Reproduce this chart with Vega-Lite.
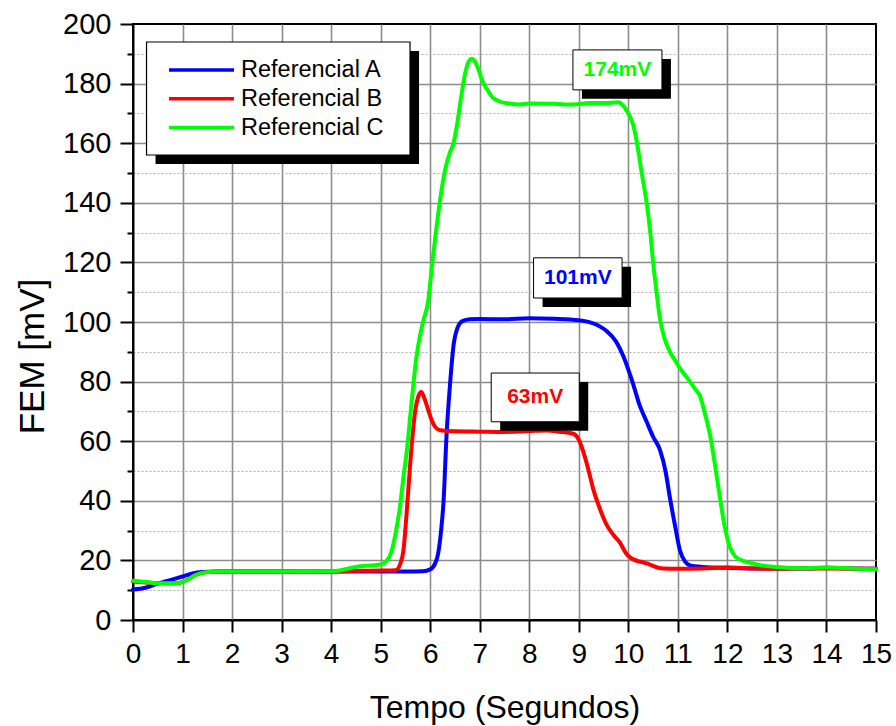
{
  "$schema": "https://vega.github.io/schema/vega-lite/v6.json",
  "width": 743,
  "height": 596,
  "autosize": {"type": "none"},
  "padding": {"left": 133, "top": 24, "right": 20, "bottom": 106},
  "background": "white",
  "config": {
    "view": {"stroke": "black", "strokeWidth": 2},
    "font": "Liberation Sans",
    "axis": {"labelFont": "Liberation Sans", "titleFont": "Liberation Sans", "labelColor": "black", "titleColor": "black", "titleFontWeight": "normal"}
  },
  "resolve": {"axis": {"x": "independent", "y": "independent"}},
  "datasets": {
    "curves": [
      {"series": "Referencial A", "t": 0, "v": 10.2}, {"series": "Referencial A", "t": 0.25, "v": 10.8}, {"series": "Referencial A", "t": 0.5, "v": 12.2}, {"series": "Referencial A", "t": 0.75, "v": 13.4}, {"series": "Referencial A", "t": 1.0, "v": 14.6}, {"series": "Referencial A", "t": 1.2, "v": 15.6}, {"series": "Referencial A", "t": 1.4, "v": 16.1}, {"series": "Referencial A", "t": 1.7, "v": 16.3}, {"series": "Referencial A", "t": 2, "v": 16.3}, {"series": "Referencial A", "t": 3, "v": 16.3}, {"series": "Referencial A", "t": 4, "v": 16.3}, {"series": "Referencial A", "t": 5, "v": 16.3}, {"series": "Referencial A", "t": 5.5, "v": 16.3}, {"series": "Referencial A", "t": 5.85, "v": 16.4}, {"series": "Referencial A", "t": 6.0, "v": 17.0}, {"series": "Referencial A", "t": 6.1, "v": 19}, {"series": "Referencial A", "t": 6.16, "v": 22.3}, {"series": "Referencial A", "t": 6.22, "v": 30}, {"series": "Referencial A", "t": 6.27, "v": 40}, {"series": "Referencial A", "t": 6.33, "v": 62}, {"series": "Referencial A", "t": 6.4, "v": 79}, {"series": "Referencial A", "t": 6.47, "v": 92}, {"series": "Referencial A", "t": 6.55, "v": 98}, {"series": "Referencial A", "t": 6.65, "v": 100.3}, {"series": "Referencial A", "t": 6.8, "v": 100.9}, {"series": "Referencial A", "t": 7.0, "v": 101}, {"series": "Referencial A", "t": 7.5, "v": 100.9}, {"series": "Referencial A", "t": 8.0, "v": 101.3}, {"series": "Referencial A", "t": 8.5, "v": 101.1}, {"series": "Referencial A", "t": 9.0, "v": 100.6}, {"series": "Referencial A", "t": 9.3, "v": 99.5}, {"series": "Referencial A", "t": 9.56, "v": 97}, {"series": "Referencial A", "t": 9.75, "v": 93.5}, {"series": "Referencial A", "t": 9.9, "v": 88.5}, {"series": "Referencial A", "t": 10.0, "v": 84}, {"series": "Referencial A", "t": 10.1, "v": 79}, {"series": "Referencial A", "t": 10.23, "v": 72}, {"series": "Referencial A", "t": 10.37, "v": 66.5}, {"series": "Referencial A", "t": 10.5, "v": 61.5}, {"series": "Referencial A", "t": 10.64, "v": 57}, {"series": "Referencial A", "t": 10.75, "v": 50}, {"series": "Referencial A", "t": 10.84, "v": 41}, {"series": "Referencial A", "t": 10.95, "v": 31}, {"series": "Referencial A", "t": 11.04, "v": 23.5}, {"series": "Referencial A", "t": 11.15, "v": 19.5}, {"series": "Referencial A", "t": 11.25, "v": 18.3}, {"series": "Referencial A", "t": 11.5, "v": 17.8}, {"series": "Referencial A", "t": 12, "v": 17.5}, {"series": "Referencial A", "t": 12.5, "v": 17.3}, {"series": "Referencial A", "t": 13, "v": 17.3}, {"series": "Referencial A", "t": 13.5, "v": 17.3}, {"series": "Referencial A", "t": 14, "v": 17.5}, {"series": "Referencial A", "t": 14.5, "v": 17.3}, {"series": "Referencial A", "t": 15, "v": 17.2},
      {"series": "Referencial B", "t": 0, "v": 12.9}, {"series": "Referencial B", "t": 0.25, "v": 12.6}, {"series": "Referencial B", "t": 0.5, "v": 12.3}, {"series": "Referencial B", "t": 0.75, "v": 12.3}, {"series": "Referencial B", "t": 0.95, "v": 12.5}, {"series": "Referencial B", "t": 1.1, "v": 13.5}, {"series": "Referencial B", "t": 1.25, "v": 15}, {"series": "Referencial B", "t": 1.4, "v": 15.8}, {"series": "Referencial B", "t": 1.6, "v": 16.2}, {"series": "Referencial B", "t": 2, "v": 16.3}, {"series": "Referencial B", "t": 3, "v": 16.3}, {"series": "Referencial B", "t": 4, "v": 16.3}, {"series": "Referencial B", "t": 4.5, "v": 16.5}, {"series": "Referencial B", "t": 5, "v": 16.6}, {"series": "Referencial B", "t": 5.3, "v": 16.7}, {"series": "Referencial B", "t": 5.4, "v": 19}, {"series": "Referencial B", "t": 5.46, "v": 23.4}, {"series": "Referencial B", "t": 5.52, "v": 35}, {"series": "Referencial B", "t": 5.59, "v": 51}, {"series": "Referencial B", "t": 5.65, "v": 63}, {"series": "Referencial B", "t": 5.7, "v": 70.5}, {"series": "Referencial B", "t": 5.76, "v": 75}, {"series": "Referencial B", "t": 5.82, "v": 76.5}, {"series": "Referencial B", "t": 5.88, "v": 74.5}, {"series": "Referencial B", "t": 5.96, "v": 70.5}, {"series": "Referencial B", "t": 6.03, "v": 67}, {"series": "Referencial B", "t": 6.1, "v": 64.8}, {"series": "Referencial B", "t": 6.2, "v": 63.7}, {"series": "Referencial B", "t": 6.5, "v": 63.3}, {"series": "Referencial B", "t": 7, "v": 63.2}, {"series": "Referencial B", "t": 7.5, "v": 63.1}, {"series": "Referencial B", "t": 8, "v": 63.4}, {"series": "Referencial B", "t": 8.35, "v": 63.6}, {"series": "Referencial B", "t": 8.6, "v": 63.2}, {"series": "Referencial B", "t": 8.89, "v": 62.5}, {"series": "Referencial B", "t": 9.0, "v": 60.5}, {"series": "Referencial B", "t": 9.1, "v": 56}, {"series": "Referencial B", "t": 9.2, "v": 50}, {"series": "Referencial B", "t": 9.29, "v": 44}, {"series": "Referencial B", "t": 9.4, "v": 38.5}, {"series": "Referencial B", "t": 9.56, "v": 32}, {"series": "Referencial B", "t": 9.7, "v": 28.5}, {"series": "Referencial B", "t": 9.83, "v": 26}, {"series": "Referencial B", "t": 9.95, "v": 22.5}, {"series": "Referencial B", "t": 10.05, "v": 20.8}, {"series": "Referencial B", "t": 10.37, "v": 19}, {"series": "Referencial B", "t": 10.7, "v": 17.3}, {"series": "Referencial B", "t": 11.04, "v": 17.2}, {"series": "Referencial B", "t": 11.5, "v": 17.3}, {"series": "Referencial B", "t": 12, "v": 17.6}, {"series": "Referencial B", "t": 12.5, "v": 17.3}, {"series": "Referencial B", "t": 13, "v": 17.2}, {"series": "Referencial B", "t": 14, "v": 17.3}, {"series": "Referencial B", "t": 15, "v": 17.2},
      {"series": "Referencial C", "t": 0, "v": 13.2}, {"series": "Referencial C", "t": 0.25, "v": 12.8}, {"series": "Referencial C", "t": 0.5, "v": 12.3}, {"series": "Referencial C", "t": 0.75, "v": 12.3}, {"series": "Referencial C", "t": 0.95, "v": 12.5}, {"series": "Referencial C", "t": 1.1, "v": 13.5}, {"series": "Referencial C", "t": 1.25, "v": 15}, {"series": "Referencial C", "t": 1.4, "v": 15.8}, {"series": "Referencial C", "t": 1.6, "v": 16.2}, {"series": "Referencial C", "t": 2, "v": 16.3}, {"series": "Referencial C", "t": 3, "v": 16.3}, {"series": "Referencial C", "t": 4, "v": 16.4}, {"series": "Referencial C", "t": 4.2, "v": 16.7}, {"series": "Referencial C", "t": 4.5, "v": 17.8}, {"series": "Referencial C", "t": 4.8, "v": 18.3}, {"series": "Referencial C", "t": 5.0, "v": 18.6}, {"series": "Referencial C", "t": 5.12, "v": 19.8}, {"series": "Referencial C", "t": 5.22, "v": 23}, {"series": "Referencial C", "t": 5.3, "v": 29}, {"series": "Referencial C", "t": 5.39, "v": 38}, {"series": "Referencial C", "t": 5.46, "v": 48}, {"series": "Referencial C", "t": 5.53, "v": 57}, {"series": "Referencial C", "t": 5.6, "v": 69}, {"series": "Referencial C", "t": 5.66, "v": 79}, {"series": "Referencial C", "t": 5.72, "v": 88}, {"series": "Referencial C", "t": 5.79, "v": 95}, {"series": "Referencial C", "t": 5.87, "v": 101}, {"series": "Referencial C", "t": 5.96, "v": 107}, {"series": "Referencial C", "t": 6.03, "v": 118}, {"series": "Referencial C", "t": 6.1, "v": 128}, {"series": "Referencial C", "t": 6.2, "v": 141}, {"series": "Referencial C", "t": 6.3, "v": 151}, {"series": "Referencial C", "t": 6.4, "v": 157}, {"series": "Referencial C", "t": 6.47, "v": 160}, {"series": "Referencial C", "t": 6.55, "v": 167}, {"series": "Referencial C", "t": 6.62, "v": 175}, {"series": "Referencial C", "t": 6.7, "v": 183}, {"series": "Referencial C", "t": 6.78, "v": 187.5}, {"series": "Referencial C", "t": 6.84, "v": 188.3}, {"series": "Referencial C", "t": 6.9, "v": 187.5}, {"series": "Referencial C", "t": 6.97, "v": 185}, {"series": "Referencial C", "t": 7.05, "v": 181}, {"series": "Referencial C", "t": 7.15, "v": 178}, {"series": "Referencial C", "t": 7.25, "v": 175.5}, {"series": "Referencial C", "t": 7.4, "v": 174}, {"series": "Referencial C", "t": 7.6, "v": 173.3}, {"series": "Referencial C", "t": 7.8, "v": 173}, {"series": "Referencial C", "t": 8.0, "v": 173.3}, {"series": "Referencial C", "t": 8.5, "v": 173.2}, {"series": "Referencial C", "t": 8.9, "v": 173}, {"series": "Referencial C", "t": 9.2, "v": 173.5}, {"series": "Referencial C", "t": 9.5, "v": 173.5}, {"series": "Referencial C", "t": 9.8, "v": 173.7}, {"series": "Referencial C", "t": 9.9, "v": 172.5}, {"series": "Referencial C", "t": 10.0, "v": 170}, {"series": "Referencial C", "t": 10.1, "v": 166}, {"series": "Referencial C", "t": 10.17, "v": 160.5}, {"series": "Referencial C", "t": 10.27, "v": 150}, {"series": "Referencial C", "t": 10.37, "v": 140}, {"series": "Referencial C", "t": 10.45, "v": 129}, {"series": "Referencial C", "t": 10.5, "v": 120}, {"series": "Referencial C", "t": 10.57, "v": 110}, {"series": "Referencial C", "t": 10.64, "v": 101}, {"series": "Referencial C", "t": 10.74, "v": 94}, {"series": "Referencial C", "t": 10.84, "v": 90}, {"series": "Referencial C", "t": 10.95, "v": 87}, {"series": "Referencial C", "t": 11.04, "v": 84.5}, {"series": "Referencial C", "t": 11.2, "v": 81}, {"series": "Referencial C", "t": 11.35, "v": 77.5}, {"series": "Referencial C", "t": 11.45, "v": 75}, {"series": "Referencial C", "t": 11.55, "v": 69}, {"series": "Referencial C", "t": 11.65, "v": 62}, {"series": "Referencial C", "t": 11.75, "v": 52}, {"series": "Referencial C", "t": 11.85, "v": 41}, {"series": "Referencial C", "t": 11.95, "v": 31}, {"series": "Referencial C", "t": 12.05, "v": 24.5}, {"series": "Referencial C", "t": 12.15, "v": 21.5}, {"series": "Referencial C", "t": 12.26, "v": 20.2}, {"series": "Referencial C", "t": 12.45, "v": 19.2}, {"series": "Referencial C", "t": 12.66, "v": 18.4}, {"series": "Referencial C", "t": 13, "v": 17.8}, {"series": "Referencial C", "t": 13.5, "v": 17.4}, {"series": "Referencial C", "t": 14, "v": 17.6}, {"series": "Referencial C", "t": 14.5, "v": 17.3}, {"series": "Referencial C", "t": 15, "v": 17.0}
    ],
    "labels": [
      {"label": "174mV", "series": "Referencial C", "t": 9.78, "v": 184.6},
      {"label": "101mV", "series": "Referencial A", "t": 8.98, "v": 114.8},
      {"label": "63mV", "series": "Referencial B", "t": 8.12, "v": 74.7}
    ]
  },
  "layer": [
    {
      "data": {"name": "curves"},
      "mark": {"type": "line", "interpolate": "monotone", "strokeWidth": 4, "strokeCap": "round", "strokeJoin": "round"},
      "encoding": {
        "x": {
          "field": "t", "type": "quantitative",
          "scale": {"domain": [0, 15], "nice": false, "zero": false},
          "axis": {
            "values": [0, 0.5, 1, 1.5, 2, 2.5, 3, 3.5, 4, 4.5, 5, 5.5, 6, 6.5, 7, 7.5, 8, 8.5, 9, 9.5, 10, 10.5, 11, 11.5, 12, 12.5, 13, 13.5, 14, 14.5, 15],
            "format": "d",
            "labelExpr": "datum.value % 1 == 0 ? datum.label : ''",
            "labelFontSize": 28, "labelPadding": 8, "labelFlush": false, "labelOverlap": false,
            "tickSize": {"condition": {"test": "datum.value % 1 == 0", "value": 12}, "value": 6},
            "tickWidth": 2, "tickColor": "black", "domainColor": "black", "domainWidth": 2,
            "grid": true,
            "gridColor": {"condition": {"test": "datum.value % 1 == 0", "value": "#8c8c8c"}, "value": "#b0b0b0"},
            "gridDash": {"condition": {"test": "datum.value % 1 == 0", "value": []}, "value": [2, 2]},
            "gridWidth": {"condition": {"test": "datum.value % 1 == 0", "value": 1.6}, "value": 1},
            "gridOpacity": {"condition": {"test": "datum.value == 0 || datum.value == 15", "value": 0}, "value": 1},
            "title": "Tempo (Segundos)", "titleFontSize": 32, "titleBaseline": "alphabetic", "titleY": 97
          }
        },
        "y": {
          "field": "v", "type": "quantitative",
          "scale": {"domain": [0, 200], "nice": false, "zero": false},
          "axis": {
            "values": [0, 10, 20, 30, 40, 50, 60, 70, 80, 90, 100, 110, 120, 130, 140, 150, 160, 170, 180, 190, 200],
            "format": "d",
            "labelExpr": "datum.value % 20 == 0 ? datum.label : ''",
            "labelFontSize": 29, "labelPadding": 9, "labelFlush": false, "labelOverlap": false,
            "tickSize": {"condition": {"test": "datum.value % 20 == 0", "value": 13}, "value": 6},
            "tickWidth": 2, "tickColor": "black", "domainColor": "black", "domainWidth": 2,
            "grid": true,
            "gridColor": {"condition": {"test": "datum.value % 20 == 0", "value": "#8c8c8c"}, "value": "#b0b0b0"},
            "gridDash": {"condition": {"test": "datum.value % 20 == 0", "value": []}, "value": [2, 2]},
            "gridWidth": {"condition": {"test": "datum.value % 20 == 0", "value": 1.6}, "value": 1},
            "gridOpacity": {"condition": {"test": "datum.value == 0 || datum.value == 200", "value": 0}, "value": 1},
            "title": "FEM [mV]", "titleFontSize": 35, "titleBaseline": "alphabetic", "titleX": -90, "titleY": 332
          }
        },
        "color": {
          "field": "series", "type": "nominal",
          "scale": {"domain": ["Referencial A", "Referencial B", "Referencial C"], "range": ["#0000ff", "#ff0000", "#00ff00"]},
          "legend": {
            "orient": "none", "legendX": 34, "legendY": 34, "title": null,
            "symbolType": "stroke", "symbolSize": 4225, "symbolStrokeWidth": 3.5,
            "labelFontSize": 23.5, "labelFont": "Liberation Sans", "labelColor": "black", "labelLimit": 400,
            "clipHeight": 24, "rowPadding": 4.8, "padding": 0, "labelOffset": 5
          }
        }
      }
    },
    {
      "data": {"values": [{}]},
      "mark": {"type": "point", "shape": "M-1,-0.4288H1V0.4288H-1Z", "size": 69432, "filled": true, "fill": "black", "strokeWidth": 0, "opacity": 1, "xOffset": 9, "yOffset": 9},
      "encoding": {"x": {"datum": 2.933, "type": "quantitative", "axis": null}, "y": {"datum": 175, "type": "quantitative", "axis": null}}
    },
    {
      "data": {"values": [{}]},
      "mark": {"type": "point", "shape": "M-1,-0.4288H1V0.4288H-1Z", "size": 69432, "filled": true, "fill": "white", "stroke": "black", "strokeWidth": 1.2, "opacity": 1},
      "encoding": {"x": {"datum": 2.933, "type": "quantitative", "axis": null}, "y": {"datum": 175, "type": "quantitative", "axis": null}}
    },
    {
      "data": {"name": "labels"},
      "mark": {"type": "point", "filled": true, "fill": "black", "strokeWidth": 0, "opacity": 1, "xOffset": 9, "yOffset": 9},
      "encoding": {
        "x": {"field": "t", "type": "quantitative", "axis": null},
        "y": {"field": "v", "type": "quantitative", "axis": null},
        "shape": {"field": "label", "type": "nominal", "scale": {"domain": ["174mV", "101mV", "63mV"], "range": ["M-1,-0.449H1V0.449H-1Z", "M-1,-0.454H1V0.454H-1Z", "M-1,-0.554H1V0.554H-1Z"]}, "legend": null},
        "size": {"field": "label", "type": "ordinal", "scale": {"domain": ["174mV", "101mV", "63mV"], "range": [7921, 7744, 5476]}, "legend": null}
      }
    },
    {
      "data": {"name": "labels"},
      "mark": {"type": "point", "filled": true, "fill": "white", "stroke": "black", "strokeWidth": 1, "opacity": 1},
      "encoding": {
        "x": {"field": "t", "type": "quantitative", "axis": null},
        "y": {"field": "v", "type": "quantitative", "axis": null},
        "shape": {"field": "label", "type": "nominal", "legend": null},
        "size": {"field": "label", "type": "ordinal", "legend": null}
      }
    },
    {
      "data": {"name": "labels"},
      "mark": {"type": "text", "font": "Liberation Sans", "fontSize": 21, "fontWeight": "bold", "align": "center", "baseline": "middle"},
      "encoding": {
        "x": {"field": "t", "type": "quantitative", "axis": null},
        "y": {"field": "v", "type": "quantitative", "axis": null},
        "text": {"field": "label"},
        "color": {"condition": [{"test": "datum.series == 'Referencial A'", "value": "#0000ff"}, {"test": "datum.series == 'Referencial B'", "value": "#ff0000"}], "value": "#00ff00"}
      }
    }
  ]
}
